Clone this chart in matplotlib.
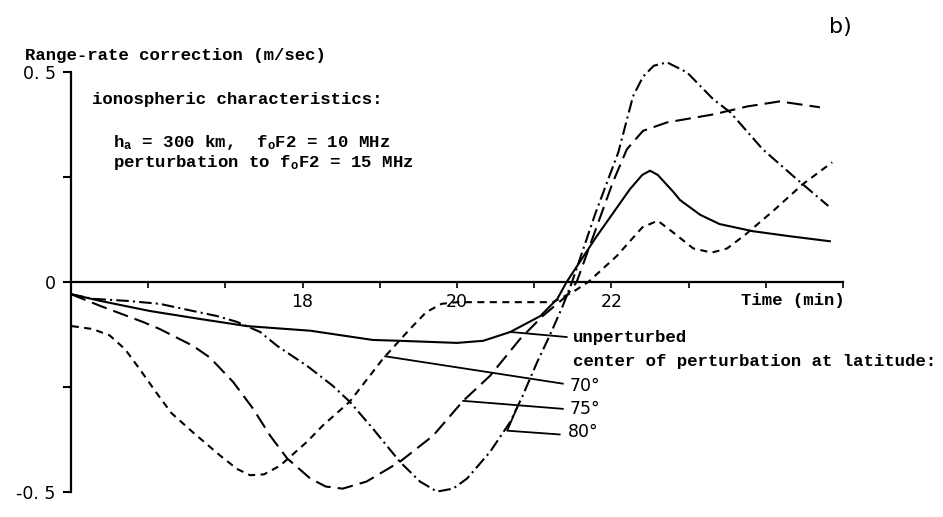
import numpy as np
import matplotlib
matplotlib.use("Agg")
import matplotlib.pyplot as plt

plt.rcParams['mathtext.fontset'] = 'custom'
plt.rcParams['mathtext.rm'] = 'Liberation Mono:bold'
plt.rcParams['mathtext.it'] = 'Liberation Mono:bold'

# time (min) and range-rate correction (m/sec)
unpert_t = [15.0, 15.38, 16.02, 16.67, 17.28, 18.1, 18.91, 19.26, 20.0, 20.34, 20.69, 21.08,
            21.3, 21.42, 21.81, 22.24, 22.4, 22.5, 22.6, 22.8, 22.89, 23.15, 23.4, 23.83, 24.31, 24.83]
unpert_v = [-0.029, -0.045, -0.069, -0.088, -0.105, -0.116, -0.138, -0.14, -0.145, -0.14, -0.119, -0.081,
            -0.04, 0.0, 0.109, 0.221, 0.255, 0.265, 0.255, 0.215, 0.195, 0.16, 0.138, 0.121, 0.109, 0.097]

lat70_t = [15.01, 15.28, 15.5, 15.7, 15.9, 16.1, 16.3, 16.58, 16.93, 17.15, 17.32, 17.5, 17.71, 18.06,
           18.26, 18.61, 19.04, 19.39, 19.6, 19.8, 20.0, 21.24, 21.5, 21.7, 22.07, 22.4, 22.6, 22.8,
           23.06, 23.3, 23.5, 23.73, 24.1, 24.48, 24.86]
lat70_v = [-0.105, -0.112, -0.127, -0.16, -0.21, -0.262, -0.312, -0.358, -0.413, -0.445, -0.46, -0.458,
           -0.437, -0.38, -0.342, -0.285, -0.183, -0.112, -0.072, -0.052, -0.048, -0.048, -0.024, 0.0,
           0.062, 0.13, 0.146, 0.118, 0.08, 0.07, 0.08, 0.112, 0.17, 0.233, 0.285]

lat75_t = [15.0, 15.38, 15.93, 16.15, 16.58, 16.8, 17.1, 17.36, 17.58, 17.8, 18.1, 18.3, 18.52, 18.83,
           19.26, 19.69, 20.08, 20.43, 20.82, 21.11, 21.42, 21.55, 22.02, 22.2, 22.41, 22.72, 23.32,
           23.76, 24.18, 24.7]
lat75_v = [-0.029, -0.057, -0.095, -0.112, -0.152, -0.18, -0.238, -0.302, -0.366, -0.42, -0.468, -0.487,
           -0.492, -0.475, -0.428, -0.366, -0.283, -0.223, -0.135, -0.081, -0.033, 0.0, 0.238, 0.316,
           0.36, 0.38, 0.399, 0.418, 0.43, 0.416]

lat80_t = [15.0, 15.28, 15.73, 16.15, 16.58, 16.89, 17.15, 17.45, 17.67, 18.06, 18.39, 18.61, 18.91,
           19.26, 19.52, 19.74, 19.95, 20.13, 20.43, 20.69, 20.85, 21.04, 21.2, 21.37, 21.49, 21.79, 22.09,
           22.28, 22.41, 22.55, 22.72, 22.98, 23.32, 23.54, 23.96, 24.4, 24.81]
lat80_v = [-0.029, -0.04, -0.045, -0.052, -0.069, -0.081, -0.095, -0.119, -0.152, -0.2, -0.247, -0.285, -0.349,
           -0.428, -0.475, -0.499, -0.492, -0.468, -0.404, -0.333, -0.271, -0.19, -0.128, -0.057, 0.0, 0.162,
           0.309, 0.442, 0.489, 0.515, 0.523, 0.499, 0.435, 0.404, 0.316, 0.245, 0.181]

x_ticks = [16, 17, 18, 19, 20, 21, 22, 23, 24, 25]
x_ticklabels = ['', '', '18', '', '20', '', '22', '', '', '']
y_ticks = [-0.5, -0.25, 0, 0.25, 0.5]
y_ticklabels = ['-0. 5', '', '0', '', '0. 5']

TW = 'Liberation Mono'   # typewriter look of the scan
NUM = 'DejaVu Sans'

fig = plt.figure(figsize=(9.43, 5.17), dpi=100)
ax = fig.add_axes([71/943, 25/517, 772/943, 420/517])

lw = 1.5
ax.plot(unpert_t, unpert_v, color='black', lw=lw, clip_on=False)
ax.plot(lat70_t, lat70_v, color='black', lw=lw, dashes=(3.4, 2.6), clip_on=False)
ax.plot(lat75_t, lat75_v, color='black', lw=lw, dashes=(7.5, 3.4), clip_on=False)
ax.plot(lat80_t, lat80_v, color='black', lw=lw, dashes=(6.0, 2.0, 1.0, 2.0), clip_on=False)

ax.set_xlim(15, 25)
ax.set_ylim(-0.5, 0.5)
ax.spines['top'].set_visible(False)
ax.spines['right'].set_visible(False)
ax.spines['bottom'].set_position(('data', 0))
ax.spines['bottom'].set_linewidth(1.6)
ax.spines['left'].set_linewidth(1.6)

ax.set_xticks(x_ticks)
ax.set_xticklabels(x_ticklabels, fontfamily=NUM, fontsize=12.5)
ax.set_yticks(y_ticks)
ax.set_yticklabels(y_ticklabels, fontfamily=NUM, fontsize=12.5)
ax.tick_params(axis='x', direction='out', length=4, width=1.2, pad=4)
ax.tick_params(axis='y', direction='out', length=6, width=1.5, pad=5)

txt = dict(fontfamily=TW, fontsize=12.5, fontweight='bold')

ax.text(-0.06, 1.04, 'Range-rate correction (m/sec)', transform=ax.transAxes,
        ha='left', va='center', **txt)
ax.text(0.996, 1.107, 'b)', transform=ax.transAxes, ha='center', va='center',
        fontfamily=NUM, fontsize=16)

ax.text(15.27, 0.435, 'ionospheric characteristics:', ha='left', va='center', **txt)
ax.text(15.54, 0.333, r'h$_\mathrm{a}$ = 300 km,  f$_\mathrm{o}$F2 = 10 MHz', ha='left', va='center', **txt)
ax.text(15.54, 0.285, r'perturbation to f$_\mathrm{o}$F2 = 15 MHz', ha='left', va='center', **txt)
ax.text(25.02, -0.045, 'Time (min)', ha='right', va='center', **txt)

ax.text(21.5, -0.131, 'unperturbed', ha='left', va='center', **txt)
ax.text(21.5, -0.19, 'center of perturbation at latitude:', ha='left', va='center', **txt)
ax.text(21.46, -0.247, '70°', ha='left', va='center', fontfamily=NUM, fontsize=12.5)
ax.text(21.46, -0.302, '75°', ha='left', va='center', fontfamily=NUM, fontsize=12.5)
ax.text(21.44, -0.356, '80°', ha='left', va='center', fontfamily=NUM, fontsize=12.5)

# leader lines from the labels to the curves
def leader(t_attach, ts, vs, pts):
    v = np.interp(t_attach, ts, vs)
    xs = [t_attach] + [p[0] for p in pts]
    ys = [v] + [p[1] for p in pts]
    ax.plot(xs, ys, color='black', lw=1.3)

leader(20.69, unpert_t, unpert_v, [(21.42, -0.131)])
leader(19.07, lat70_t, lat70_v, [(21.37, -0.242)])
leader(20.08, lat75_t, lat75_v, [(21.37, -0.302)])
leader(20.78, lat80_t, lat80_v, [(20.65, -0.354), (21.33, -0.363)])

fig.savefig('out.png', dpi=100)
